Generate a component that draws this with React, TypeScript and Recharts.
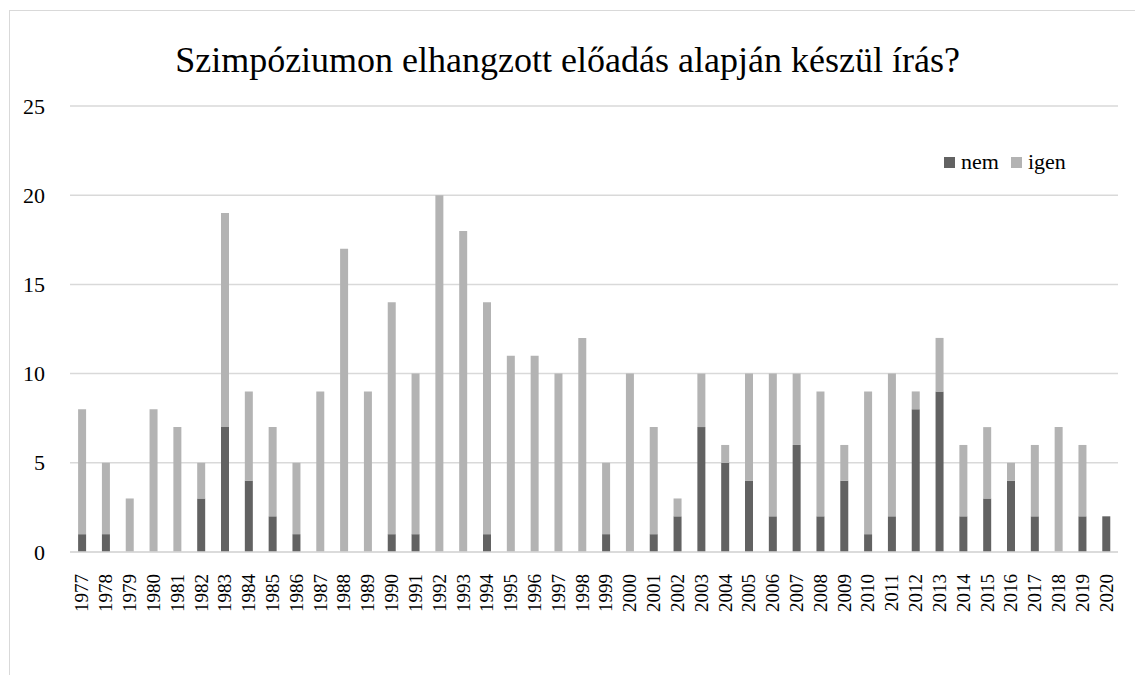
import React from "react";
import { BarChart, Bar, XAxis, YAxis, CartesianGrid } from "recharts";

const years = [
  "1977","1978","1979","1980","1981","1982","1983","1984","1985","1986",
  "1987","1988","1989","1990","1991","1992","1993","1994","1995","1996",
  "1997","1998","1999","2000","2001","2002","2003","2004","2005","2006",
  "2007","2008","2009","2010","2011","2012","2013","2014","2015","2016",
  "2017","2018","2019","2020",
];
const nem = [
  1,1,0,0,0,3,7,4,2,1,
  0,0,0,1,1,0,0,1,0,0,
  0,0,1,0,1,2,7,5,4,2,
  6,2,4,1,2,8,9,2,3,4,
  2,0,2,2,
];
const igen = [
  7,4,3,8,7,2,12,5,5,4,
  9,17,9,13,9,20,18,13,11,11,
  10,12,4,10,6,1,3,1,6,8,
  4,7,2,8,8,1,3,4,4,1,
  4,7,4,0,
];
const yTicks = [0, 5, 10, 15, 20, 25];
const seriesNames = ["nem", "igen"];

const data = years.map((y, i) => ({ year: y, nem: nem[i], igen: igen[i] }));

const NEM_COLOR = "#626262";
const IGEN_COLOR = "#b3b3b3";
const FONT = "'Liberation Serif', 'Times New Roman', serif";

const XTick = (props: any) => {
  const { x, y, payload } = props;
  return (
    <text
      transform={`translate(${x},${y + 14}) rotate(-90)`}
      textAnchor="end"
      dominantBaseline="central"
      fontFamily={FONT}
      fontSize={19}
      fill="#000"
    >
      {payload.value}
    </text>
  );
};

const YTick = (props: any) => {
  const { y, payload } = props;
  return (
    <text
      x={45}
      y={y}
      textAnchor="end"
      dominantBaseline="central"
      fontFamily={FONT}
      fontSize={22}
      fill="#000"
    >
      {payload.value}
    </text>
  );
};

const colors = [NEM_COLOR, IGEN_COLOR];

export default function App() {
  return (
    <div style={{ position: "absolute", left: 0, top: 0, width: 1135, height: 675, overflow: "hidden", background: "#fff" }}>
      <div
        style={{
          position: "absolute",
          left: 9,
          top: 10,
          width: 1200,
          height: 700,
          border: "1px solid #d9d9d9",
        }}
      />
      <div
        style={{
          position: "absolute",
          left: 0,
          width: 1135,
          top: 37,
          textAlign: "center",
          fontFamily: FONT,
          fontSize: 36,
          color: "#000",
          lineHeight: "46px",
          whiteSpace: "nowrap",
        }}
      >
        Szimpóziumon elhangzott előadás alapján készül írás?
      </div>
      <div style={{ position: "absolute", left: 0, top: 0 }}>
        <BarChart
          width={1135}
          height={675}
          data={data}
          margin={{ top: 106, right: 17, bottom: 0, left: 0 }}
          barCategoryGap="34%"
        >
          <CartesianGrid vertical={false} stroke="#d9d9d9" strokeWidth={1.5} />
          <XAxis
            dataKey="year"
            height={123}
            interval={0}
            tickLine={false}
            axisLine={{ stroke: "#d9d9d9", strokeWidth: 1.5 }}
            tick={<XTick />}
          />
          <YAxis
            width={70}
            domain={[0, 25]}
            ticks={yTicks}
            tickLine={false}
            axisLine={false}
            tick={<YTick />}
          />
          <Bar dataKey="nem" stackId="a" fill={NEM_COLOR} isAnimationActive={false} />
          <Bar dataKey="igen" stackId="a" fill={IGEN_COLOR} isAnimationActive={false} />
        </BarChart>
      </div>
      <div
        style={{
          position: "absolute",
          left: 944,
          top: 149,
          display: "flex",
          alignItems: "center",
          fontFamily: FONT,
          fontSize: 22,
          color: "#000",
          lineHeight: "26px",
        }}
      >
        {seriesNames.map((n, i) => (
          <React.Fragment key={n}>
            <span style={{ width: 11, height: 11, background: colors[i], display: "inline-block", marginRight: 6 }} />
            <span style={{ marginRight: i === 0 ? 12 : 0 }}>{n}</span>
          </React.Fragment>
        ))}
      </div>
    </div>
  );
}
